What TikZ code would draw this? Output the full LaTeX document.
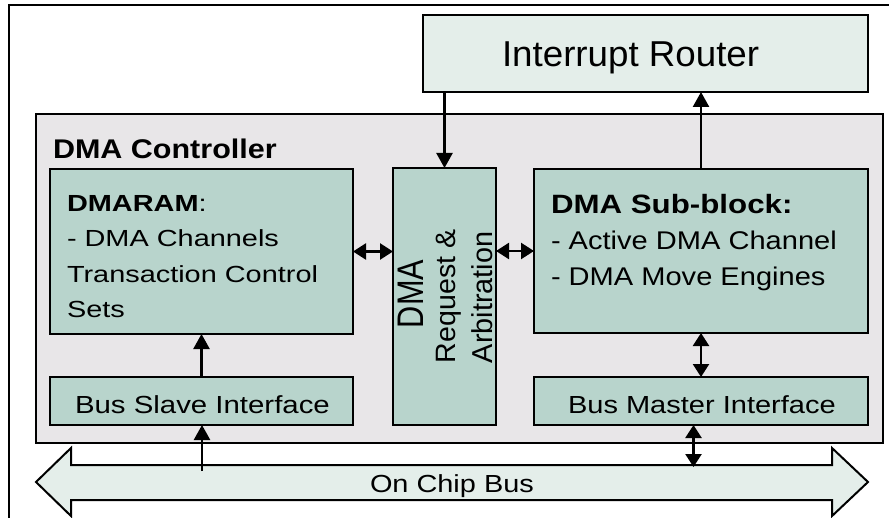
\documentclass[tikz,border=0pt]{standalone}
\usepackage{fontspec}
\setmainfont{Liberation Sans}
\usepackage{graphicx}
\usetikzlibrary{arrows.meta}
\definecolor{lightfill}{RGB}{228,238,234}
\definecolor{boxfill}{RGB}{184,212,204}
\definecolor{ctrlfill}{RGB}{232,230,232}
\newcommand{\txt}[3]{\fontsize{#1}{#1}\selectfont\scalebox{#2}[1]{#3}}
\begin{document}
\begin{tikzpicture}[x=1pt,y=-1pt,
  blk/.style={draw=black, line width=2pt, fill=boxfill, inner sep=0pt, outer sep=0pt},
  lbl/.style={inner sep=0pt, outer sep=0pt, anchor=base west},
  arr/.style={line width=2.4pt, -{Triangle[length=15pt,width=16pt]}},
  darr/.style={line width=2.4pt, {Triangle[length=13pt,width=16pt]}-{Triangle[length=13pt,width=16pt]}}]
\useasboundingbox (0,0) rectangle (890,518);
% outer frame
\draw[line width=1.8pt] (9,520) -- (9,5) -- (889,5);
% interrupt router
\node[blk, fill=lightfill, minimum width=445pt, minimum height=77pt] (router) at (645.5,53.5) {};
% controller
\node[draw=black, line width=2.6pt, fill=ctrlfill, inner sep=0pt, minimum width=847pt, minimum height=329pt] (ctrl) at (459.5,278.5) {};
% inner blocks
\node[blk, minimum width=303pt, minimum height=165pt] (dmaram) at (201.5,251.5) {};
\node[blk, minimum width=303pt, minimum height=48pt] (slave) at (201.5,401) {};
\node[blk, minimum width=103pt, minimum height=257pt] (arb) at (444.5,296.5) {};
\node[blk, minimum width=334pt, minimum height=164pt] (sub) at (701,251) {};
\node[blk, minimum width=334pt, minimum height=48pt] (master) at (701,401) {};
% on chip bus
\draw[line width=2pt, fill=lightfill, line join=miter]
  (36,482) -- (71,448) -- (71,465) -- (832,465) -- (832,448) -- (868,482)
  -- (832,516) -- (832,500) -- (71,500) -- (71,516) -- cycle;
\coordinate (busA) at (202,471);
\coordinate (busB) at (693.5,467);
% connectors
\draw[arr] (router.south -| arb.north) -- (arb.north);
\draw[arr] (sub.north) -- (router.south -| sub.north);
\draw[darr] (dmaram.east) -- (dmaram.east -| arb.west);
\draw[darr] (sub.west -| arb.east) -- (sub.west);
\draw[arr] (slave.north) -- (dmaram.south);
\draw[arr] (busA) -- (busA |- slave.south);
\draw[darr] (sub.south) -- (master.north);
\draw[darr] (busB |- master.south) -- (busB);
% texts
\node[lbl] (tRouter) at (502,67) {\txt{36}{1.02}{Interrupt Router}};
\node[lbl] (tCtrl) at (53,159) {\txt{27}{1.13}{\bfseries DMA Controller}};
\node[lbl] (tRam1) at (67,212) {\txt{23.3}{1.24}{\textbf{DMARAM}:}};
\node[lbl] (tRam2) at (67,247) {\txt{23.3}{1.24}{- DMA Channels}};
\node[lbl] (tRam3) at (67,282) {\txt{23.3}{1.24}{Transaction Control}};
\node[lbl] (tRam4) at (67,317) {\txt{23.3}{1.24}{Sets}};
\node[lbl] (tSub1) at (551,214) {\txt{26.5}{1.18}{\bfseries DMA Sub-block:}};
\node[lbl] (tSub2) at (551,250) {\txt{25.6}{1.135}{- Active DMA Channel}};
\node[lbl] (tSub3) at (551,285) {\txt{25.6}{1.135}{- DMA Move Engines}};
\node[lbl] (tSlave) at (75,413) {\txt{24.7}{1.19}{Bus Slave Interface}};
\node[lbl] (tMaster) at (568,413) {\txt{24.7}{1.175}{Bus Master Interface}};
\node[lbl] (tBus) at (370,492) {\txt{24.7}{1.17}{On Chip Bus}};
\node[lbl, rotate=90] (tArb1) at (423.3,328) {\txt{37}{0.83}{DMA}};
\node[lbl, rotate=90] (tArb2) at (455,363) {\txt{28}{1.02}{Request \&}};
\node[lbl, rotate=90] (tArb3) at (492,363) {\txt{28.8}{1.0}{Arbitration}};
\end{tikzpicture}
\end{document}
